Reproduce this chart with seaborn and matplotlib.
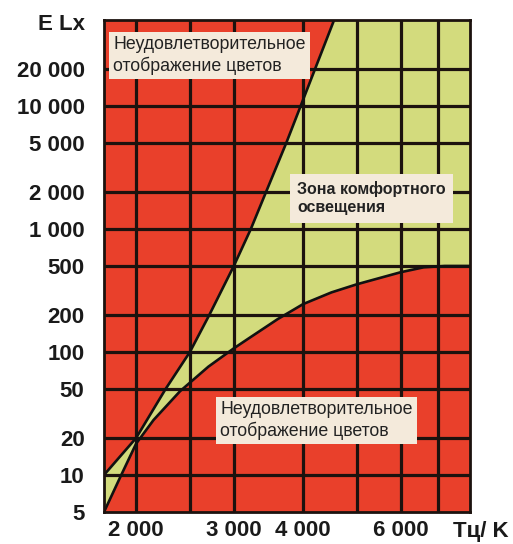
import numpy as np
import matplotlib
matplotlib.use("Agg")
import matplotlib.pyplot as plt
from matplotlib.ticker import NullLocator
import seaborn as sns

# Kruithof-type comfort diagram: colour temperature vs illuminance
# upper boundary of the comfort zone
upper_T = [1750, 2000, 2260, 2500, 2710, 3000, 3220, 3430, 3730, 3960, 4550]
upper_E = [10, 20, 50, 100, 200, 500, 1000, 2000, 5000, 10000, 50000]

# lower boundary of the comfort zone
lower_T = [1750, 1880, 2000, 2150, 2400, 2700, 3000, 3200, 3600, 4000, 4500,
           5000, 6000, 6600, 7200, 8000]
lower_E = [5, 10, 18, 28, 48, 76, 107, 130, 185, 245, 305, 355, 445, 488, 500, 500]

x_grid = [2000, 2500, 3000, 4000, 5000, 6000, 7000]
y_grid = [10, 20, 50, 100, 200, 500, 1000, 2000, 5000, 10000, 20000]

x_ticks = [2000, 3000, 4000, 6000]
x_labels = ["2 000", "3 000", "4 000", "6 000"]
y_ticks = [5, 10, 20, 50, 100, 200, 500, 1000, 2000, 5000, 10000, 20000]
y_labels = ["5", "10", "20", "50", "100", "200", "500", "1 000", "2 000",
            "5 000", "10 000", "20 000"]

x_lim = (1750, 8000)
y_lim = (5, 50000)

bad_text = "Неудовлетворительное\nотображение цветов"
good_text = "Зона комфортного\nосвещения"

red = "#E9402B"
green = "#D3DB7D"
cream = "#F4EADB"
dark = "#1c120e"

sns.set_style("white")
plt.rcParams["font.family"] = ["Liberation Sans", "DejaVu Sans"]

fig = plt.figure(figsize=(5.13, 5.44), dpi=100)
ax = fig.add_axes([104 / 513, 32 / 544, 366 / 513, 492 / 544])
ax.set_xscale("log")
ax.set_yscale("log")
ax.set_facecolor(red)

# comfort zone polygon: up the upper curve, across the top, back down the lower curve
poly_T = upper_T + [x_lim[1]] + lower_T[::-1]
poly_E = upper_E + [y_lim[1]] + lower_E[::-1]
ax.fill(poly_T, poly_E, color=green, zorder=1, lw=0)

for t in x_grid:
    ax.axvline(t, color=dark, lw=2.3, zorder=2)
for e in y_grid:
    ax.axhline(e, color=dark, lw=2.3, zorder=2)

sns.lineplot(x=upper_T, y=upper_E, ax=ax, color="#111111", lw=1.9,
             sort=False, estimator=None, zorder=3)
sns.lineplot(x=lower_T, y=lower_E, ax=ax, color="#111111", lw=1.9,
             sort=False, estimator=None, zorder=3)

ax.set_xlim(*x_lim)
ax.set_ylim(*y_lim)
ax.xaxis.set_minor_locator(NullLocator())
ax.yaxis.set_minor_locator(NullLocator())
ax.set_xticks(x_ticks, x_labels)
ax.set_yticks(y_ticks, y_labels)
ax.tick_params(axis="both", length=0, labelsize=16, colors="#1a1a1a")
ax.tick_params(axis="y", pad=14)
ax.tick_params(axis="x", pad=6)
for lab in ax.get_xticklabels() + ax.get_yticklabels():
    lab.set_fontweight("bold")
ax.set_xlabel("")
ax.set_ylabel("")

for s in ax.spines.values():
    s.set_color(dark)
    s.set_linewidth(2)
    s.set_zorder(4)

ax.text(-0.052, 0.99, "E Lx", transform=ax.transAxes, ha="right", va="center",
        fontsize=16, fontweight="bold", color="#1a1a1a")
ax.text(1.03, -0.039, "Tц/ K", transform=ax.transAxes, ha="center", va="center",
        fontsize=16, fontweight="bold", color="#1a1a1a")

box = dict(boxstyle="square,pad=0.25", fc=cream, ec="none")
ax.text(0.025, 0.928, bad_text, transform=ax.transAxes, ha="left", va="center",
        fontsize=12.8, color="#222222", bbox=box, zorder=6, linespacing=1.25)
ax.text(0.317, 0.186, bad_text, transform=ax.transAxes, ha="left", va="center",
        fontsize=12.8, color="#222222", bbox=box, zorder=6, linespacing=1.25)
ax.text(0.528, 0.638, good_text, transform=ax.transAxes, ha="left", va="center",
        fontsize=11.5, fontweight="bold", color="#222222",
        bbox=dict(boxstyle="square,pad=0.45", fc=cream, ec="none"), zorder=6,
        linespacing=1.3)

fig.savefig("out.png", dpi=100)
